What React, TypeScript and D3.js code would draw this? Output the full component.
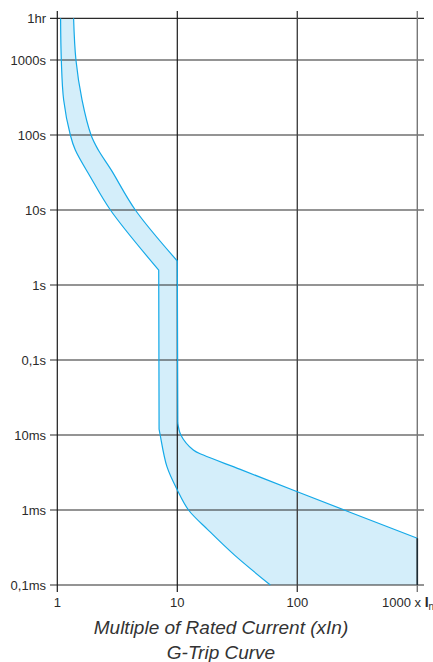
import React from "react";
import * as d3 from "d3";

type P = [number, number];

// Tick values and labels
const yTickValues = [3600, 1000, 100, 10, 1, 0.1, 0.01, 0.001, 0.0001];
const yTickLabels = ["1hr", "1000s", "100s", "10s", "1s", "0,1s", "10ms", "1ms", "0,1ms"];
const xTickValues = [1, 10, 100, 1000];
const xTickLabels = ["1", "10", "100", "1000"];

// Minimum (left) trip curve: [multiple of In, seconds]
const minUpper: P[] = [[1.065, 3600], [1.08, 1000], [1.13, 293], [1.284, 100], [1.413, 63], [1.883, 27.8], [2.77, 10], [7.0, 1.58]];
const minVertical: P[] = [[7.0, 1.58], [7.05, 0.012]];
const minKnee: P[] = [[7.05, 0.012], [7.2, 0.01], [8.2, 0.00378], [10, 0.00185], [12.4, 0.001], [18.1, 0.00054], [30, 0.00025], [59.6, 0.0001]];

// Maximum (right) trip curve
const maxUpper: P[] = [[1.367, 3600], [1.43, 1000], [1.607, 293], [1.91, 100], [2.197, 63], [2.82, 34], [4.47, 10], [10, 2.09]];
const maxVertical: P[] = [[10, 2.09], [10.1, 0.0145]];
const maxKnee: P[] = [[10.1, 0.0145], [10.7, 0.01], [13.6, 0.0063], [16.5, 0.0054], [33.5, 0.00348], [100, 0.00175], [1000, 0.00042]];

const W = 433;
const H = 662;

const x = d3.scaleLog().domain([1, 1000]).range([57.3, 417.3]);
const y = d3.scaleLog().domain([0.0001, 1000]).range([585, 60]);

const lineSmooth = d3.line<P>().x(d => x(d[0])).y(d => y(d[1])).curve(d3.curveCatmullRom.alpha(0.5));
const lineLin = d3.line<P>().x(d => x(d[0])).y(d => y(d[1])).curve(d3.curveLinear);

function joinPieces(pieces: { pts: P[]; curved: boolean }[]): string {
  return pieces
    .map((p, i) => {
      const s = (p.curved ? lineSmooth(p.pts) : lineLin(p.pts)) || "";
      return i === 0 ? s : s.replace(/^M/, "L");
    })
    .join("");
}

const rev = (a: P[]) => a.slice().reverse();

const minPath = joinPieces([
  { pts: minUpper, curved: true },
  { pts: minVertical, curved: false },
  { pts: minKnee, curved: true },
]);
const maxPath = joinPieces([
  { pts: maxUpper, curved: true },
  { pts: maxVertical, curved: false },
  { pts: maxKnee, curved: true },
]);
const maxRevPath = joinPieces([
  { pts: rev(maxKnee), curved: true },
  { pts: rev(maxVertical), curved: false },
  { pts: rev(maxUpper), curved: true },
]);

const lastMin = minKnee[minKnee.length - 1];
const lastMax = maxKnee[maxKnee.length - 1];
const fillPath =
  minPath +
  `L${x(1000)},${y(lastMin[1])}` +
  `L${x(lastMax[0])},${y(lastMax[1])}` +
  maxRevPath.replace(/^M/, "L") +
  "Z";

const font = "'Liberation Sans', Arial, Helvetica, sans-serif";

export default function App() {
  const xl = 50;
  const xr = 424;
  const yt = 11;
  const yb = 592;
  return (
    <svg
      width={W}
      height={H}
      viewBox={`0 0 ${W} ${H}`}
      style={{ position: "absolute", left: 0, top: 0, background: "#fff" }}
    >
      <rect x={0} y={0} width={W} height={H} fill="#fff" />
      {/* band fill */}
      <path d={fillPath} fill="#d4eefa" stroke="none" />
      {/* horizontal grid */}
      {yTickValues.map((v, i) => (
        <line key={"h" + i} x1={xl} x2={xr} y1={y(v)} y2={y(v)} stroke="#2a2a2a" strokeWidth={1.2} />
      ))}
      {/* vertical grid */}
      {xTickValues.map((v, i) => (
        <line
          key={"v" + i}
          x1={x(v)}
          x2={x(v)}
          y1={yt}
          y2={yb}
          stroke={i < 2 ? "#1a1a1a" : i === 2 ? "#444" : "#777"}
          strokeWidth={i < 2 ? 1.2 : 1.4}
        />
      ))}
      {/* band outlines */}
      <path d={minPath} fill="none" stroke="#14a9e8" strokeWidth={1.2} />
      <path d={maxPath} fill="none" stroke="#14a9e8" strokeWidth={1.2} />
      <line x1={x(1000)} x2={x(1000)} y1={y(lastMax[1])} y2={y(0.0001)} stroke="#1c2a33" strokeWidth={1.6} />
      {/* y labels */}
      {yTickValues.map((v, i) => (
        <text
          key={"yl" + i}
          x={46}
          y={y(v)}
          dy="0.36em"
          textAnchor="end"
          fontFamily={font}
          fontSize={13}
          fill="#2a2a2a"
        >
          {yTickLabels[i]}
        </text>
      ))}
      {/* x labels */}
      {xTickValues.slice(0, 3).map((v, i) => (
        <text
          key={"xl" + i}
          x={x(v)}
          y={607}
          textAnchor="middle"
          fontFamily={font}
          fontSize={13}
          fill="#2a2a2a"
        >
          {xTickLabels[i]}
        </text>
      ))}
      <text x={382} y={607} fontFamily={font} fontSize={13} fill="#2a2a2a">
        {xTickLabels[3]} x <tspan fontWeight="bold" fontSize={14}>I</tspan>
        <tspan fontSize={10} dy={3}>n</tspan>
      </text>
      {/* titles */}
      <text x={221} y={634} textAnchor="middle" fontFamily={font} fontStyle="italic" fontSize={19} fill="#333">
        Multiple of Rated Current (xIn)
      </text>
      <text x={221} y={659} textAnchor="middle" fontFamily={font} fontStyle="italic" fontSize={19} fill="#333">
        G-Trip Curve
      </text>
    </svg>
  );
}
